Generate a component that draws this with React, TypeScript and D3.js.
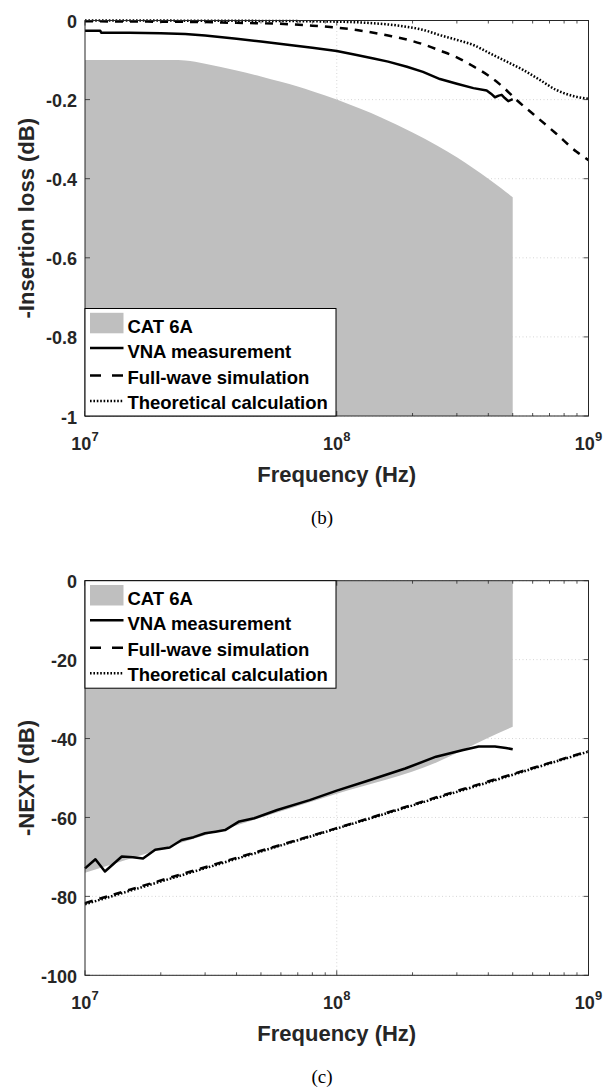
import React from "react";
import * as d3 from "d3";

// ---------- Data (frequencies in MHz) ----------
// (b) insertion loss
const ilCatFreq = [10, 22, 25, 30, 40, 50, 60, 70, 80, 100, 125, 150, 200, 250, 300, 350, 400, 450, 500];
const ilCatVal = [-0.1, -0.1, -0.101, -0.1095, -0.1265, -0.1414, -0.155, -0.167, -0.179, -0.2, -0.224, -0.245, -0.283, -0.316, -0.346, -0.374, -0.4, -0.424, -0.447];

const ilVnaFreq = [10, 11.5, 11.6, 15, 20, 25, 30, 40, 50, 65, 80, 100, 120, 140, 160, 190, 220, 257, 300, 349, 394, 410, 425, 440, 452, 465, 480, 500];
const ilVnaVal = [-0.026, -0.026, -0.031, -0.031, -0.032, -0.034, -0.038, -0.046, -0.053, -0.062, -0.069, -0.077, -0.087, -0.096, -0.104, -0.117, -0.13, -0.148, -0.16, -0.171, -0.177, -0.185, -0.194, -0.19, -0.188, -0.196, -0.204, -0.199];

const ilSimFreq = [10, 20, 30, 40, 50, 67, 80, 100, 120, 140, 160, 184, 220, 257, 300, 349, 406, 459, 518, 604, 747, 897, 1000];
const ilSimVal = [-0.002, -0.003, -0.004, -0.006, -0.007, -0.01, -0.013, -0.018, -0.024, -0.031, -0.038, -0.046, -0.06, -0.076, -0.093, -0.116, -0.142, -0.169, -0.201, -0.237, -0.287, -0.332, -0.353];

const ilTheoFreq = [10, 50, 100, 140, 190, 221, 257, 300, 349, 406, 474, 550, 640, 747, 869, 1000];
const ilTheoVal = [0, -0.001, -0.003, -0.007, -0.016, -0.024, -0.037, -0.049, -0.062, -0.083, -0.104, -0.125, -0.15, -0.176, -0.191, -0.198];

// (c) NEXT
const nxCatFreq = [10, 100, 250, 350, 400, 500];
const nxCatVal = [-74, -54, -46, -41.6, -39.8, -37];

const nxVnaFreq = [10, 11, 12, 14, 15.5, 17, 19, 21.7, 24.2, 27, 30, 33, 36, 41, 47, 58, 78, 100, 130, 187, 248, 318, 366, 425, 470, 500];
const nxVnaVal = [-72.9, -70.6, -73.7, -69.9, -70.1, -70.4, -68.2, -67.6, -65.7, -65, -64, -63.6, -63.2, -61, -60.2, -58.1, -55.6, -53.2, -50.9, -47.6, -44.6, -42.9, -42, -42, -42.4, -42.7];

const nxSimFreq = [10, 30, 100, 300, 1000];
const nxSimVal = [-81.7, -72.6, -62.7, -53.3, -43.2];

const nxTheoFreq = [10, 100, 1000];
const nxTheoVal = [-82, -62.8, -43.3];

const ilTicks = [-1, -0.8, -0.6, -0.4, -0.2, 0];
const ilTickLabels = ["-1", "-0.8", "-0.6", "-0.4", "-0.2", "0"];
const nxTicks = [-100, -80, -60, -40, -20, 0];
const nxTickLabels = ["-100", "-80", "-60", "-40", "-20", "0"];
const decades = [7, 8, 9];
const legendLabels = ["CAT 6A", "VNA measurement", "Full-wave simulation", "Theoretical calculation"];

type Series = { f: number[]; v: number[] };
const zip = (f: number[], v: number[]) => f.map((x, i) => [x * 1e6, v[i]] as [number, number]);

const AX = "#262626";
const FONT = "'Liberation Sans', Arial, Helvetica, sans-serif";

function Chart(props: {
  top: number;
  bottom: number;
  domain: [number, number];
  ticks: number[];
  tickLabels: string[];
  ylabel: string;
  caption: string;
  captionY: number;
  cat: Series;
  fillTo: number;
  vna: Series;
  sim: Series;
  theo: Series;
  legendTop: number;
}) {
  const left = 85;
  const right = 588.5;
  const x = d3.scaleLog().domain([1e7, 1e9]).range([left, right]);
  const y = d3.scaleLinear().domain(props.domain).range([props.bottom, props.top]);

  const catData = zip(props.cat.f, props.cat.v);
  const area = d3
    .area<[number, number]>()
    .x((d) => x(d[0]))
    .y0(() => y(props.fillTo))
    .y1((d) => y(d[1]))
    .curve(d3.curveMonotoneX);
  const lineLin = d3
    .line<[number, number]>()
    .x((d) => x(d[0]))
    .y((d) => y(d[1]));
  const lineSmooth = d3
    .line<[number, number]>()
    .x((d) => x(d[0]))
    .y((d) => y(d[1]))
    .curve(d3.curveMonotoneX);

  const minor: number[] = [];
  for (const base of [1e7, 1e8]) for (let k = 2; k <= 9; k++) minor.push(base * k);

  const lt = props.legendTop;
  const lx0 = 90;
  const lx1 = 123.5;
  const tx = 127.4;
  const midY = (props.top + props.bottom) / 2;
  const midX = (left + right) / 2;

  return (
    <g>
      {/* grid */}
      {props.ticks.map((t) => (
        <line key={"gy" + t} x1={left} x2={right} y1={y(t)} y2={y(t)} stroke="#c4c4c4" strokeWidth={0.7} strokeDasharray="1,2.5" />
      ))}
      <line x1={x(1e8)} x2={x(1e8)} y1={props.top} y2={props.bottom} stroke="#c4c4c4" strokeWidth={0.7} strokeDasharray="1,2.5" />

      {/* CAT 6A fill */}
      <path d={area(catData) || ""} fill="#bfbfbf" stroke="none" />

      {/* curves */}
      <path d={lineSmooth(zip(props.theo.f, props.theo.v)) || ""} fill="none" stroke="#000" strokeWidth={2.5} strokeDasharray="1.6,1.8" />
      <path d={lineSmooth(zip(props.sim.f, props.sim.v)) || ""} fill="none" stroke="#000" strokeWidth={2.5} strokeDasharray="8,7" />
      <path d={lineLin(zip(props.vna.f, props.vna.v)) || ""} fill="none" stroke="#000" strokeWidth={2.5} strokeLinejoin="round" />

      {/* axes box */}
      <rect x={left} y={props.top} width={right - left} height={props.bottom - props.top} fill="none" stroke={AX} strokeWidth={1} />

      {/* x ticks */}
      {minor.map((m) => (
        <g key={"mx" + m}>
          <line x1={x(m)} x2={x(m)} y1={props.bottom} y2={props.bottom - 3} stroke={AX} strokeWidth={0.8} />
          <line x1={x(m)} x2={x(m)} y1={props.top} y2={props.top + 3} stroke={AX} strokeWidth={0.8} />
        </g>
      ))}
      {decades.map((d) => (
        <g key={"xt" + d}>
          <line x1={x(Math.pow(10, d))} x2={x(Math.pow(10, d))} y1={props.bottom} y2={props.bottom - 5} stroke={AX} strokeWidth={0.8} />
          <line x1={x(Math.pow(10, d))} x2={x(Math.pow(10, d))} y1={props.top} y2={props.top + 5} stroke={AX} strokeWidth={0.8} />
          <text x={x(Math.pow(10, d))} y={props.bottom + 34} textAnchor="middle" fontFamily={FONT} fontWeight="bold" fill={AX}>
            <tspan fontSize={18}>10</tspan>
            <tspan fontSize={13} dy={-9}>{d}</tspan>
          </text>
        </g>
      ))}

      {/* y ticks */}
      {props.ticks.map((t, i) => (
        <g key={"yt" + t}>
          <line x1={left} x2={left + 5} y1={y(t)} y2={y(t)} stroke={AX} strokeWidth={0.8} />
          <line x1={right} x2={right - 5} y1={y(t)} y2={y(t)} stroke={AX} strokeWidth={0.8} />
          <text x={77} y={y(t) + 7.5} textAnchor="end" fontFamily={FONT} fontWeight="bold" fontSize={18} fill={AX}>
            {props.tickLabels[i]}
          </text>
        </g>
      ))}

      {/* axis labels */}
      <text x={midX} y={props.bottom + 66} textAnchor="middle" fontFamily={FONT} fontWeight="bold" fontSize={22} fill={AX}>
        Frequency (Hz)
      </text>
      <text transform={`translate(34,${midY}) rotate(-90)`} textAnchor="middle" fontFamily={FONT} fontWeight="bold" fontSize={22} fill={AX}>
        {props.ylabel}
      </text>

      {/* legend */}
      <rect x={left} y={lt} width={251} height={107.5} fill="#fff" stroke="#000" strokeWidth={1} />
      <rect x={lx0} y={lt + 4.3} width={lx1 - lx0} height={20.5} fill="#bfbfbf" />
      <line x1={lx0} x2={lx1} y1={lt + 39.5} y2={lt + 39.5} stroke="#000" strokeWidth={2.5} />
      <line x1={lx0} x2={lx1} y1={lt + 67} y2={lt + 67} stroke="#000" strokeWidth={2.5} strokeDasharray="11,11" />
      <line x1={lx0} x2={lx1} y1={lt + 92.5} y2={lt + 92.5} stroke="#000" strokeWidth={2.5} strokeDasharray="1.6,1.8" />
      {legendLabels.map((l, i) => (
        <text key={l} x={tx} y={lt + [24, 49, 75, 100][i]} fontFamily={FONT} fontWeight="bold" fontSize={18.5} fill="#000">
          {l}
        </text>
      ))}

      {/* caption */}
      <text x={322} y={props.captionY} textAnchor="middle" fontFamily="'Liberation Serif', 'Times New Roman', serif" fontSize={19} fill="#000">
        {props.caption}
      </text>
    </g>
  );
}

export default function App() {
  return (
    <svg width={605} height={1087} style={{ position: "absolute", left: 0, top: 0, background: "#fff" }}>
      <rect x={0} y={0} width={605} height={1087} fill="#fff" />
      <Chart
        top={20.5}
        bottom={416}
        domain={[-1, 0]}
        ticks={ilTicks}
        tickLabels={ilTickLabels}
        ylabel="-Insertion loss (dB)"
        caption="(b)"
        captionY={524}
        cat={{ f: ilCatFreq, v: ilCatVal }}
        fillTo={-1}
        vna={{ f: ilVnaFreq, v: ilVnaVal }}
        sim={{ f: ilSimFreq, v: ilSimVal }}
        theo={{ f: ilTheoFreq, v: ilTheoVal }}
        legendTop={308.5}
      />
      <Chart
        top={580.7}
        bottom={975.3}
        domain={[-100, 0]}
        ticks={nxTicks}
        tickLabels={nxTickLabels}
        ylabel="-NEXT (dB)"
        caption="(c)"
        captionY={1083}
        cat={{ f: nxCatFreq, v: nxCatVal }}
        fillTo={0}
        vna={{ f: nxVnaFreq, v: nxVnaVal }}
        sim={{ f: nxSimFreq, v: nxSimVal }}
        theo={{ f: nxTheoFreq, v: nxTheoVal }}
        legendTop={580.7}
      />
    </svg>
  );
}
